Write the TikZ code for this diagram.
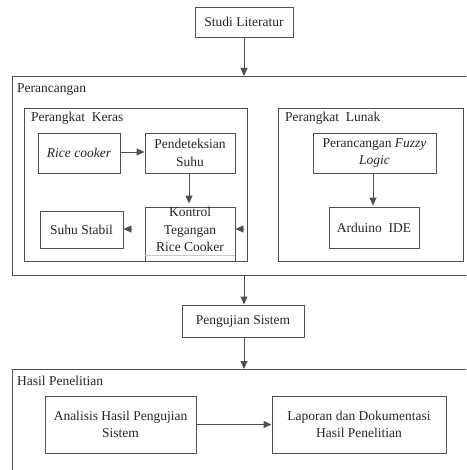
\documentclass[tikz,border=0pt]{standalone}
\usepackage{fontspec}
\setmainfont{Liberation Serif}
\usetikzlibrary{arrows.meta}
\definecolor{ln}{HTML}{505050}
\definecolor{tx}{HTML}{262626}
\begin{document}
\begin{tikzpicture}[x=1pt,y=-1pt,
  every node/.style={text=tx, font=\fontsize{13.5}{17.5}\selectfont},
  box/.style={draw=ln, line width=0.95pt, inner sep=0pt, align=center},
  frame/.style={draw=ln, line width=0.95pt, inner sep=0pt, anchor=north west},
  lbl/.style={anchor=west, inner sep=0pt},
  arr/.style={draw=ln, line width=0.95pt, -{Triangle[length=8pt,width=7pt]}}]
\useasboundingbox (0,0) rectangle (466,470);
\clip (0,0) rectangle (466,470);
\fill[white] (0,0) rectangle (466,470);
% top
\node[box, minimum width=98pt, minimum height=30pt] (studi) at (244,22) {Studi Literatur};
% Perancangan container
\node[frame, minimum width=455pt, minimum height=199pt] (peranc) at (12,76) {};
\node[lbl] (peranclbl) at (17,90) {Perancangan};
\node[frame, minimum width=223pt, minimum height=153pt] (keras) at (24,108) {};
\node[lbl] (keraslbl) at (31,118) {Perangkat\ \ Keras};
\node[frame, minimum width=185pt, minimum height=153pt] (lunak) at (278,108) {};
\node[lbl] (lunaklbl) at (285,118) {Perangkat\ \ Lunak};
% hardware
\node[box, minimum width=82pt, minimum height=40pt] (rice) at (79,153) {\itshape Rice cooker};
\node[box, minimum width=90pt, minimum height=40pt] (pend) at (190,153) {Pendeteksian\\Suhu};
\node[box, minimum width=90pt, minimum height=54pt] (kontrol) at (190,234) {};
\node[inner sep=0pt, align=center] (kontroltxt) at (190,229.5) {Kontrol\\Tegangan\\Rice Cooker};
\draw[black!22, line width=0.8pt] ([yshift=6pt]kontrol.south west) -- ([yshift=6pt]kontrol.south east);
\node[box, minimum width=83pt, minimum height=37pt] (stabil) at (81.5,229.5) {Suhu Stabil};
% software
\node[box, minimum width=123pt, minimum height=40pt] (fuzzy) at (374.5,153) {Perancangan \textit{Fuzzy}\\\textit{Logic}};
\node[box, minimum width=90pt, minimum height=41pt] (arduino) at (374,227.5) {Arduino\ \ IDE};
% middle
\node[box, minimum width=122pt, minimum height=32pt] (uji) at (243,321) {Pengujian Sistem};
% Hasil container
\node[frame, minimum width=455pt, minimum height=120pt] (hasil) at (12,369) {};
\node[lbl] (hasillbl) at (17,381) {Hasil Penelitian};
\node[box, minimum width=151pt, minimum height=57pt] (analisis) at (120.5,424.5) {Analisis Hasil Pengujian\\Sistem};
\node[box, minimum width=174pt, minimum height=57pt] (laporan) at (359,424.5) {Laporan dan Dokumentasi\\Hasil Penelitian};
% connectors
\coordinate (fx) at (373,0);
\draw[arr] (studi.south) -- (studi.south |- peranc.north);
\draw[arr] (rice.east |- 0,152) -- (pend.west |- 0,152);
\draw[arr, shorten >=3pt] ([xshift=-1pt]pend.south) -- ([xshift=-1pt]kontrol.north);
\draw[arr] (fx |- fuzzy.south) -- ([yshift=1pt]fx |- arduino.north);
\coordinate (s1) at (132,229);
\coordinate (k1) at (244,229);
\draw[arr] (s1) -- (stabil.east |- s1);
\draw[arr] (k1) -- (kontrol.east |- k1);
\draw[arr] (studi.south |- peranc.south) -- (studi.south |- uji.north);
\draw[arr] (studi.south |- uji.south) -- (studi.south |- hasil.north);
\draw[arr] (analisis.east) -- (laporan.west);
\end{tikzpicture}
\end{document}
